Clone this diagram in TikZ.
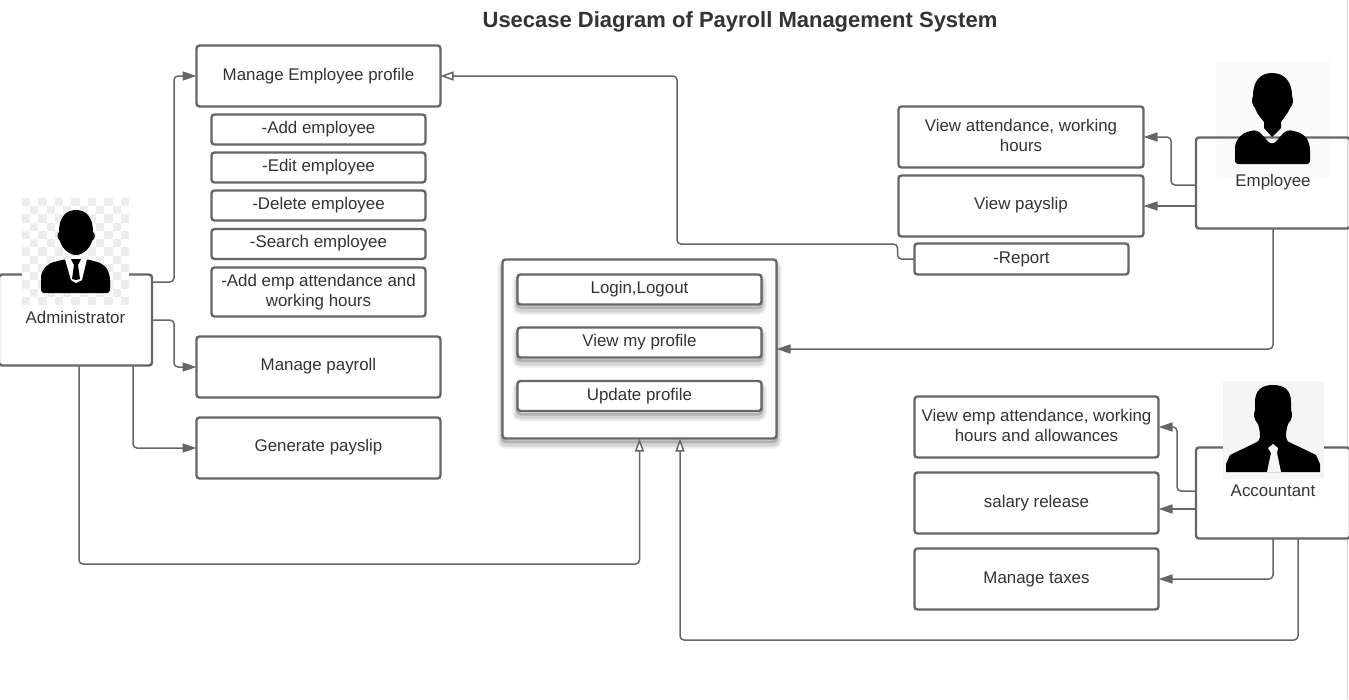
\documentclass[tikz,border=0pt]{standalone}
\usepackage{fontspec}
\setmainfont{Liberation Sans}
\usetikzlibrary{arrows.meta,patterns}
\definecolor{linegray}{HTML}{666666}
\definecolor{textgray}{HTML}{333333}
\tikzset{
  casebox/.style={draw=linegray,line width=2.4pt,rounded corners=3pt,fill=white,outer sep=0pt,inner sep=0pt,
    text=textgray,font=\fontsize{16.9}{20}\selectfont,align=center,text height=14pt,text depth=6pt},
  twolines/.style={text height=34pt},
  raised/.style={text depth=8pt},
  softshadow/.style={preaction={draw=black,line width=10pt,opacity=.07,rounded corners=5pt,transform canvas={yshift=-5pt}},
    preaction={draw=black,line width=6pt,opacity=.10,rounded corners=4pt,transform canvas={yshift=-5pt}},
    preaction={draw=black,line width=3pt,opacity=.16,rounded corners=3pt,transform canvas={yshift=-3pt}}},
  flow/.style={draw=linegray,line width=1.5pt,rounded corners=4pt,-{Triangle[length=14pt,width=9pt,fill=linegray]}},
  inherit/.style={draw=linegray,line width=1.5pt,rounded corners=4pt,-{Triangle[open,length=13pt,width=9pt,fill=white]}},
  actorname/.style={text=textgray,font=\fontsize{16.9}{20}\selectfont,text height=12pt,text depth=4pt}
}
\begin{document}
\begin{tikzpicture}[x=1pt,y=-1pt]
    \useasboundingbox (0,0) rectangle (1349,699);
    \fill[white] (0,0) rectangle (1349,699);
    \draw[black!15,line width=1pt] (1347.5,0) -- (1347.5,699);

    \node (title) at (740,22) [font=\fontsize{22}{26}\bfseries\selectfont,text=textgray] {Usecase Diagram of Payroll Management System};

    % left side
    \node (manage) at (318.5,76) [casebox,minimum width=244pt,minimum height=61pt] {Manage Employee profile};
    \node (addemp) at (318.5,129.5) [casebox,minimum width=214pt,minimum height=30pt] {-Add employee};
    \node (editemp) at (318.5,167.5) [casebox,minimum width=214pt,minimum height=30pt] {-Edit employee};
    \node (delemp) at (318.5,205.5) [casebox,minimum width=214pt,minimum height=30pt] {-Delete employee};
    \node (searchemp) at (318.5,244) [casebox,raised,minimum width=214pt,minimum height=30pt] {-Search employee};
    \node (attemp) at (318.5,292) [casebox,twolines,minimum width=214pt,minimum height=49pt] {-Add emp attendance and\\working hours};
    \node (payroll) at (318.5,367) [casebox,raised,minimum width=244pt,minimum height=61pt] {Manage payroll};
    \node (genslip) at (318.5,448) [casebox,raised,minimum width=244pt,minimum height=61pt] {Generate payslip};

    % middle
    \node (common) at (639.5,349) [casebox,softshadow,minimum width=274pt,minimum height=179pt] {};
    \node (login) at (639.5,289.5) [casebox,softshadow,minimum width=244pt,minimum height=30pt] {Login,Logout};
    \node (viewprof) at (639.5,342.5) [casebox,softshadow,minimum width=244pt,minimum height=30pt] {View my profile};
    \node (update) at (639.5,396) [casebox,softshadow,minimum width=244pt,minimum height=30pt] {Update profile};

    % right side
    \node (viewatt) at (1021,137) [casebox,twolines,minimum width=245pt,minimum height=61pt] {View attendance, working\\hours};
    \node (viewslip) at (1021,206) [casebox,raised,minimum width=245pt,minimum height=61pt] {View payslip};
    \node (report) at (1021.5,259) [casebox,minimum width=214pt,minimum height=31pt] {-Report};
    \node (viewemp) at (1036.5,427) [casebox,twolines,minimum width=244pt,minimum height=61pt] {View emp attendance, working\\hours and allowances};
    \node (salary) at (1036.5,503) [casebox,minimum width=244pt,minimum height=61pt] {salary release};
    \node (taxes) at (1036.5,579) [casebox,minimum width=244pt,minimum height=61pt] {Manage taxes};

    % actors
    \fill[pattern=north east lines,pattern color=black!5] (1216,61) rectangle (1330,176);
    \node (admin) at (75.5,320) [casebox,minimum width=153pt,minimum height=91pt] {};
    \node (employee) at (1273,183) [casebox,fill=none,minimum width=154pt,minimum height=91pt] {};
    \node (accountant) at (1273,493) [casebox,minimum width=154pt,minimum height=91pt] {};

    % connectors
    \draw[flow] ([yshift=38pt]admin.east) -- ++(22,0) |- (manage.west);
    \draw[flow] (admin.east) -- ++(22,0) |- (payroll.west);
    \draw[flow] ([xshift=57.5pt]admin.south) |- (genslip.west);
    \draw[inherit] ([xshift=3.5pt]admin.south) -- ++(0,198.5) -| (common.south);
    \draw[inherit] (report.west) -- ++(-17,0) -- ++(0,-15) -| (677,160) |- (manage.east);
    \draw[flow] ([yshift=-2pt]employee.west) -- ++(-25,0) |- (viewatt.east);
    \draw[flow] ([yshift=-23pt]employee.west) -- (viewslip.east);
    \draw[flow] (employee.south) |- (common.east);
    \draw[flow] ([yshift=2pt]accountant.west) -- ++(-19,0) |- (viewemp.east);
    \draw[flow] ([yshift=-16pt]accountant.west) -- ([yshift=-6pt]salary.east);
    \draw[flow] (accountant.south) |- (taxes.east);
    \draw[inherit] ([xshift=25pt]accountant.south) -- ++(0,101.5) -| ([xshift=40.5pt]common.south);

    % administrator picture
    \fill[white] (22,198) rectangle (129,305);
    \foreach \i in {0,...,12}
      \foreach \j in {0,...,12}{
        \pgfmathparse{int(mod(\i+\j,2))}
        \ifnum\pgfmathresult=0
          \fill[black!7] (22+\i*8.23,198+\j*8.23) rectangle ++(8.23,8.23);
        \fi
      }
    \fill[black] (76,210) .. controls (66,210) and (59,217) .. (59,232) .. controls (56,234) and (58,239) .. (60,241)
      .. controls (62,249) and (70,255) .. (76,255) .. controls (82,255) and (90,249) .. (92,241)
      .. controls (95,239) and (96,234) .. (93,232) .. controls (93,217) and (86,210) .. (76,210) -- cycle;
    \fill[black] (41,293) [rounded corners=3pt] -- (41,274) [rounded corners=6pt] -- (47,264) -- (65,259) -- (87,259) -- (104,264) -- (110,274) [rounded corners=3pt] -- (110,293) -- cycle;
    \fill[white] (65,259) -- (72,259) -- (76,262) -- (80,259) -- (87,259) -- (82,280) -- (76,283) -- (71,280) -- cycle;
    \fill[black] (71,259) -- (81,259) -- (78,265) -- (80,279) -- (76,280) -- (72,279) -- (74,265) -- cycle;

    % employee picture
    \fill[black] (1272,73) .. controls (1261,73) and (1253,80) .. (1253,96) .. controls (1251,100) and (1252,105) .. (1255,108)
      .. controls (1257,115) and (1263,120) .. (1264,122) -- (1264,128) -- (1272,137) -- (1281,128) -- (1281,122)
      .. controls (1282,120) and (1287,115) .. (1290,108) .. controls (1293,105) and (1294,100) .. (1292,96)
      .. controls (1292,80) and (1283,73) .. (1272,73) -- cycle;
    \fill[black] (1235,164) [rounded corners=3pt] -- (1235,144) [rounded corners=6pt] -- (1241,134) -- (1257,129) -- (1272,146) -- (1287,129) -- (1304,134) -- (1310,144) [rounded corners=3pt] -- (1310,164) -- cycle;

    % accountant picture
    \fill[black!4] (1223,381) rectangle (1324,479);
    \fill[black] (1273,385) .. controls (1262,385) and (1255,390) .. (1255,402) -- (1255,410) .. controls (1253,414) and (1254,420) .. (1258,424)
      .. controls (1260,430) and (1260,435) .. (1260,437) .. controls (1259,440) and (1259,441) .. (1257,442) -- (1230,455) -- (1226,464) -- (1226,472)
      -- (1320,472) -- (1320,464) -- (1316,455) -- (1289,442) .. controls (1287,441) and (1287,440) .. (1286,437)
      .. controls (1286,435) and (1286,430) .. (1288,424) .. controls (1292,420) and (1293,414) .. (1291,410) -- (1291,402)
      .. controls (1291,390) and (1284,385) .. (1273,385) -- cycle;
    \fill[black!4] (1268,448) -- (1273,444) -- (1278,448) -- (1277,453) -- (1281,472) -- (1267,472) -- (1271,453) -- cycle;

    \node (adminname) at (75.5,319) [actorname] {Administrator};
    \node (employeename) at (1273,182) [actorname] {Employee};
    \node (accountantname) at (1273,492) [actorname] {Accountant};
\end{tikzpicture}
\end{document}
